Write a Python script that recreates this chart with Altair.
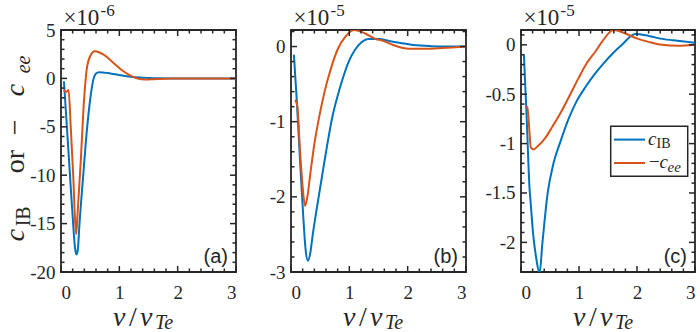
import altair as alt
import pandas as pd

# ---------------- data ----------------
# panel (a): values in units of 1e-6
A_IB_V = [0.05, 0.10, 0.155, 0.21, 0.24, 0.265, 0.29, 0.315, 0.38, 0.44, 0.50, 0.555, 0.60, 0.65, 0.72, 0.80, 0.90, 1.00, 1.10, 1.20, 1.35, 1.50, 1.70, 2.00, 2.50, 3.00]
A_IB_C = [-0.3, -4.9, -10.1, -15.2, -17.5, -18.2, -17.6, -15.2, -10.1, -5.6, -2.2, -0.1, 0.5, 0.64, 0.62, 0.55, 0.45, 0.35, 0.25, 0.17, 0.09, 0.05, 0.02, 0.0, 0.0, 0.0]
A_EE_V = [0.05, 0.08, 0.11, 0.13, 0.166, 0.21, 0.24, 0.26, 0.285, 0.34, 0.385, 0.44, 0.50, 0.58, 0.65, 0.73, 0.90, 1.07, 1.21, 1.30, 1.45, 1.60, 1.80, 2.00, 2.50, 3.00]
A_EE_C = [-1.2, -1.4, -1.3, -1.2, -4.9, -10.1, -14.5, -16.1, -13.9, -8.4, -3.2, 0.9, 2.3, 2.8, 2.7, 2.45, 1.6, 0.74, 0.23, 0.0, -0.12, -0.08, -0.03, 0.0, 0.0, 0.0]

# panel (b): values in units of 1e-5
B_IB_V = [0.05, 0.10, 0.155, 0.21, 0.25, 0.29, 0.33, 0.37, 0.47, 0.59, 0.70, 0.85, 0.99, 1.10, 1.20, 1.33, 1.50, 1.70, 1.85, 2.10, 2.40, 2.70, 3.00]
B_IB_C = [-0.11, -0.73, -1.52, -2.26, -2.7, -2.85, -2.75, -2.52, -2.02, -1.45, -0.97, -0.52, -0.2, -0.04, 0.05, 0.1, 0.1, 0.07, 0.05, 0.02, 0.005, 0.0, 0.0]
B_EE_V = [0.07, 0.09, 0.11, 0.155, 0.20, 0.24, 0.28, 0.33, 0.40, 0.48, 0.57, 0.67, 0.81, 0.93, 1.08, 1.28, 1.45, 1.56, 1.75, 2.02, 2.30, 2.60, 3.00]
B_EE_C = [-0.71, -0.74, -0.80, -1.39, -1.87, -2.12, -2.0, -1.7, -1.3, -0.95, -0.62, -0.33, -0.02, 0.13, 0.22, 0.17, 0.1, 0.08, 0.02, -0.03, -0.03, -0.02, 0.0]

# panel (c): values in units of 1e-5
C_IB_V = [0.05, 0.098, 0.15, 0.16, 0.21, 0.26, 0.32, 0.37, 0.46, 0.56, 0.68, 0.82, 0.96, 1.12, 1.28, 1.42, 1.56, 1.74, 1.97, 2.20, 2.43, 2.70, 3.00]
C_IB_C = [-0.1, -0.74, -1.48, -1.55, -1.92, -2.15, -2.31, -2.0, -1.5, -1.2, -0.98, -0.75, -0.57, -0.42, -0.29, -0.19, -0.1, 0.0, 0.11, 0.09, 0.06, 0.04, 0.02]
C_EE_V = [0.08, 0.11, 0.13, 0.17, 0.21, 0.30, 0.41, 0.55, 0.70, 0.85, 0.99, 1.13, 1.28, 1.42, 1.59, 1.78, 1.97, 2.20, 2.43, 2.70, 3.00]
C_EE_C = [-0.63, -0.63, -0.75, -1.04, -1.06, -1.02, -0.95, -0.82, -0.67, -0.5, -0.34, -0.19, -0.07, 0.05, 0.15, 0.12, 0.07, 0.03, 0.0, -0.01, 0.0]

# axis tick values
X_MAJOR = [0, 1, 2, 3]
X_MINOR = [0.2, 0.4, 0.6, 0.8, 1.2, 1.4, 1.6, 1.8, 2.2, 2.4, 2.6, 2.8]
A_MAJOR = [-20, -15, -10, -5, 0, 5]
A_MINOR = [v for v in range(-19, 5) if v % 5 != 0]
B_MAJOR = [-3, -2, -1, 0]
B_MINOR = [-2.8, -2.6, -2.4, -2.2, -1.8, -1.6, -1.4, -1.2, -0.8, -0.6, -0.4, -0.2, 0.2]
C_MAJOR = [-2, -1.5, -1, -0.5, 0]
C_MINOR = [-2.2, -2.1, -1.9, -1.8, -1.7, -1.6, -1.4, -1.3, -1.2, -1.1, -0.9, -0.8, -0.7,
           -0.6, -0.4, -0.3, -0.2, -0.1, 0.1]

# ---------------- style ----------------
BLUE = "#0072BD"
ORANGE = "#D95319"
INK = "#262626"
SERIF = "'Liberation Serif', 'Times New Roman', serif"
SANS = "'Liberation Sans', Arial, sans-serif"
H = 242
ONE = pd.DataFrame({"k": [0]})
MAJ = 6
MIN = 3.5
TICK_FS = 19


def txt(s, x, y, size, font=SERIF, italic=False, angle=0, align="left"):
    kw = dict(text=s, fontSize=size, font=font, align=align, baseline="alphabetic", color=INK)
    if italic:
        kw["fontStyle"] = "italic"
    if angle:
        kw["angle"] = angle
    return alt.Chart(ONE).mark_text(**kw).encode(x=alt.value(x), y=alt.value(y))


def panel(ib_v, ib_c, ee_v, ee_c, w, ydom, ymajor, yminor, tag, expo):
    ib = pd.DataFrame({"v": ib_v, "c": ib_c})
    ee = pd.DataFrame({"v": ee_v, "c": ee_c})
    xs = alt.Scale(domain=[0, 3], nice=False, zero=False)
    ys = alt.Scale(domain=ydom, nice=False, zero=False)

    l_ib = alt.Chart(ib).mark_line(color=BLUE, strokeWidth=2, clip=True, interpolate="monotone").encode(
        x=alt.X("v:Q", scale=xs, title=None,
                axis=alt.Axis(values=X_MAJOR, ticks=False, domain=False, grid=False,
                              labelFont=SERIF, labelFontSize=TICK_FS, labelColor=INK, labelPadding=11,
                              labelExpr="datum.value + ''")),
        y=alt.Y("c:Q", scale=ys, title=None,
                axis=alt.Axis(values=ymajor, ticks=False, domain=False, grid=False,
                              labelFont=SERIF, labelFontSize=TICK_FS, labelColor=INK, labelPadding=6,
                              labelExpr="datum.value + ''")),
    )
    l_ee = alt.Chart(ee).mark_line(color=ORANGE, strokeWidth=2, clip=True, interpolate="monotone").encode(
        x=alt.X("v:Q", scale=xs, axis=None),
        y=alt.Y("c:Q", scale=ys, axis=None),
    )

    # inward ticks on all four sides, drawn from the tick-value lists through the scales
    def xticks(vals, size):
        d = pd.DataFrame({"t": vals})
        bot = alt.Chart(d).mark_rule(color=INK, strokeWidth=1.5).encode(
            x=alt.X("t:Q", scale=xs, axis=None), y=alt.value(H), y2=alt.value(H - size))
        top = alt.Chart(d).mark_rule(color=INK, strokeWidth=1.5).encode(
            x=alt.X("t:Q", scale=xs, axis=None), y=alt.value(0), y2=alt.value(size))
        return [bot, top]

    def yticks(vals, size):
        d = pd.DataFrame({"t": vals})
        lef = alt.Chart(d).mark_rule(color=INK, strokeWidth=1.5).encode(
            y=alt.Y("t:Q", scale=ys, axis=None), x=alt.value(0), x2=alt.value(size))
        rig = alt.Chart(d).mark_rule(color=INK, strokeWidth=1.5).encode(
            y=alt.Y("t:Q", scale=ys, axis=None), x=alt.value(w), x2=alt.value(w - size))
        return [lef, rig]

    layers = [l_ib, l_ee]
    layers += xticks(X_MAJOR, MAJ) + xticks(X_MINOR, MIN)
    layers += yticks(ymajor, MAJ) + yticks(yminor, MIN)
    layers += [
        txt("×10", 2.4, -5.4, 23),
        txt(expo, 39.5, -13.7, 17),
        txt(tag, w - 8, H - 9, 20, font=SANS, align="right"),
        # x title  v/v_Te
        txt("v", 52, 295.5, 28, italic=True),
        txt("/", 68, 295.5, 28),
        txt("v", 79, 295.5, 28, italic=True),
        txt("Te", 94, 298.8, 20, italic=True),
    ]
    return layers


YT_X = -36.7      # baseline of the rotated y title
YT_SUB = -30.7    # baseline of its subscripts
pa_layers = panel(A_IB_V, A_IB_C, A_EE_V, A_EE_C, 175, [-20, 5], A_MAJOR, A_MINOR, "(a)", "-6")
# y title (rotated) and anchor for the page's top-left corner
pa_layers += [
    alt.Chart(ONE).mark_rect(opacity=0).encode(
        x=alt.value(-59.3), x2=alt.value(-58.3), y=alt.value(-28.7), y2=alt.value(-27.7)),
    txt("c", YT_X, 211.3, 28, italic=True, angle=270),
    txt("IB", YT_SUB, 196.3, 20, angle=270),
    txt("or", YT_X, 143.3, 28, angle=270),
    txt("\u2212", YT_X, 105.3, 28, angle=270),
    txt("c", YT_X, 66.3, 28, italic=True, angle=270),
    txt("ee", YT_SUB, 43.3, 20, italic=True, angle=270),
]
pa = alt.layer(*pa_layers).resolve_axis(x="independent", y="independent").properties(width=175, height=H)

pb_layers = panel(B_IB_V, B_IB_C, B_EE_V, B_EE_C, 175, [-3, 0.22], B_MAJOR, B_MINOR, "(b)", "-5")
pb = alt.layer(*pb_layers).resolve_axis(x="independent", y="independent").properties(width=175, height=H)

pc_layers = panel(C_IB_V, C_IB_C, C_EE_V, C_EE_C, 174, [-2.3, 0.15], C_MAJOR, C_MINOR, "(c)", "-5")
pc_layers += [
    alt.Chart(ONE).mark_rect(fill="white", stroke=INK, strokeWidth=1.5).encode(
        x=alt.value(89.7), x2=alt.value(166.7), y=alt.value(96.3), y2=alt.value(146.3)),
    alt.Chart(ONE).mark_rule(color=BLUE, strokeWidth=2).encode(
        x=alt.value(93), x2=alt.value(124), y=alt.value(109.6)),
    alt.Chart(ONE).mark_rule(color=ORANGE, strokeWidth=2).encode(
        x=alt.value(93), x2=alt.value(124), y=alt.value(133)),
    txt("c", 127, 114.6, 19, italic=True),
    txt("IB", 135.5, 118, 14),
    txt("\u2212", 128, 138, 19),
    txt("c", 138.5, 138, 19, italic=True),
    txt("ee", 146.5, 142, 15, italic=True),
]
pc = alt.layer(*pc_layers).resolve_axis(x="independent", y="independent").properties(width=174, height=H)

chart = alt.hconcat(pa, pb, pc, spacing=55, bounds="flush").properties(
    padding=0, background="white"
).configure_view(stroke=INK, strokeWidth=1.8)

chart.save("out.html", embed_options={"renderer": "svg", "actions": False})
